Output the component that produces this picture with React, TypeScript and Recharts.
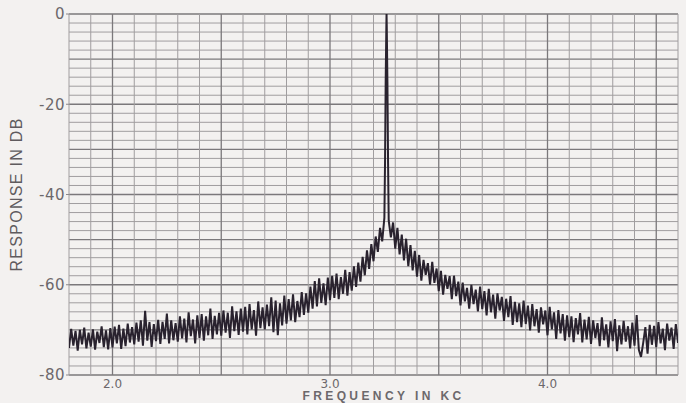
import { Line, LineChart, ReferenceLine, XAxis, YAxis } from 'recharts';

// sweep sampled every 0.01 KC, left flank runs 1.80 .. 3.25
const LEFT_START = 1.8;
const RIGHT_START = 3.27;
const STEP = 0.01;

const LEFT_DB = [
  -74.0, -69.8, -73.5, -70.2, -74.6, -70.0, -73.2, -69.5, -74.1, -70.6,
  -73.7, -69.9, -74.4, -70.4, -72.9, -69.2, -73.8, -70.1, -74.3, -69.6,
  -73.9, -69.3, -73.0, -68.9, -74.2, -69.7, -73.6, -68.6, -72.8, -69.4,
  -73.2, -68.4, -72.6, -67.9, -73.5, -65.8, -72.4, -68.3, -73.8, -68.7,
  -72.5, -67.8, -73.1, -68.2, -72.0, -66.4, -73.0, -67.9, -72.3, -68.5,
  -72.6, -67.0, -71.9, -67.5, -72.8, -66.1, -71.4, -67.7, -73.0, -66.8,
  -71.8, -66.5, -72.4, -67.0, -71.2, -65.3, -72.0, -66.9, -71.0, -66.2,
  -71.3, -65.7, -70.6, -66.2, -71.8, -64.8, -70.3, -65.9, -71.1, -65.3,
  -70.4, -64.9, -71.0, -64.3, -69.9, -65.6, -71.3, -63.7, -69.6, -65.0,
  -69.9, -64.4, -69.2, -62.8, -70.5, -63.5, -71.2, -64.1, -69.0, -62.4,
  -68.6, -63.2, -67.9, -62.1, -68.3, -63.6, -67.2, -61.6, -66.7, -61.9,
  -66.2, -60.4, -65.3, -59.2, -64.8, -58.6, -64.0, -59.7, -64.5, -58.4,
  -63.4, -58.0, -62.9, -57.5, -63.2, -58.3, -62.0, -56.7, -62.4, -57.2,
  -61.3, -55.9, -60.5, -55.1, -59.3, -53.8, -57.9, -52.4, -56.5, -51.0,
  -54.8, -49.3, -52.7, -47.4, -50.4, -45.2,
];

// the resonance itself
const PEAK_FREQ = [3.253, 3.256, 3.259, 3.26, 3.261, 3.264, 3.267];
const PEAK_DB = [-33, -15, -3, 0, -3, -15, -33];

// right flank 3.27 .. 4.60
const RIGHT_DB = [
  -45.8, -49.5, -46.2,
  -52.0, -47.4, -53.3, -48.9, -54.6, -49.8, -55.9, -51.2, -56.8, -52.5,
  -58.2, -53.4, -59.1, -54.5, -57.8, -55.2, -60.0, -54.9, -59.6, -56.4,
  -61.4, -56.9, -62.2, -57.8, -60.9, -58.1, -63.2, -58.0, -62.5, -59.3,
  -64.6, -59.5, -63.7, -60.7, -65.3, -60.0, -64.3, -61.1, -65.9, -60.4,
  -65.4, -61.4, -66.8, -60.9, -66.1, -62.2, -67.5, -61.9, -65.7, -62.7,
  -68.0, -63.1, -67.2, -62.5, -68.9, -63.8, -68.3, -64.1, -69.4, -63.5,
  -68.7, -64.6, -70.1, -64.3, -69.2, -65.4, -70.6, -65.0, -68.8, -65.7,
  -71.2, -64.9, -69.9, -66.1, -72.0, -65.6, -70.8, -66.5, -72.4, -66.8,
  -71.6, -67.0, -72.7, -67.4, -71.0, -66.3, -72.8, -67.7, -72.1, -67.1,
  -73.1, -67.9, -71.8, -68.5, -73.6, -67.2, -72.3, -68.8, -73.9, -68.1,
  -72.5, -67.6, -74.7, -69.0, -73.2, -68.0, -72.6, -69.2, -74.1, -68.4,
  -73.5, -66.7, -74.4, -76.0, -72.9, -69.4, -75.3, -68.9, -73.3, -69.1,
  -73.8, -68.3, -73.0, -69.7, -74.5, -68.6, -72.4, -69.5, -74.2, -68.7,
  -72.9,
];

const X_TICKS = [2.0, 3.0, 4.0];
const Y_TICKS = [0, -20, -40, -60, -80];

const r3 = (v: number) => Math.round(v * 1000) / 1000;

const data = [
  ...LEFT_DB.map((db, i) => ({ f: r3(LEFT_START + i * STEP), db })),
  ...PEAK_FREQ.map((f, i) => ({ f, db: PEAK_DB[i] })),
  ...RIGHT_DB.map((db, i) => ({ f: r3(RIGHT_START + i * STEP), db })),
];

// chart paper: fine lines every 0.1 KC / 2 dB, heavier every 0.5 KC / 10 dB
const gridV: { v: number; major: boolean }[] = [];
for (let i = 0; i <= 28; i++) gridV.push({ v: r3(1.8 + i * 0.1), major: (i + 3) % 5 === 0 });
const gridH: { v: number; major: boolean }[] = [];
for (let v = -80; v <= 0; v += 2) gridH.push({ v, major: v % 10 === 0 });

const INK = '#29222e';
const LABEL = '#6c686b';
const FONT = '"Liberation Sans", Arial, sans-serif';
const WIDE = '"DejaVu Sans", sans-serif';

export default function App() {
  return (
    <div style={{ position: 'fixed', left: 0, top: 0, width: 686, height: 403, background: '#f3f1f0' }}>
      <LineChart width={686} height={403} data={data} margin={{ top: 14, right: 8, bottom: 8, left: 0 }}>
        <XAxis
          type="number"
          dataKey="f"
          domain={[1.8, 4.6]}
          ticks={X_TICKS}
          tickFormatter={(v: number) => v.toFixed(1)}
          allowDataOverflow
          axisLine={false}
          tickLine={false}
          tickSize={0}
          tickMargin={4}
          height={20}
          tick={{ fill: LABEL, fontSize: 12, fontFamily: WIDE }}
          label={{
            content: ({ viewBox }: any) => (
              <text
                x={viewBox.x + viewBox.width / 2 + 10}
                y={viewBox.y + viewBox.height + 5}
                textAnchor="middle"
                fill={LABEL}
                fontSize={12}
                fontWeight="bold"
                letterSpacing={3.4}
                fontFamily={FONT}
              >
                FREQUENCY IN KC
              </text>
            ),
          }}
        />
        <YAxis
          type="number"
          domain={[-80, 0]}
          ticks={Y_TICKS}
          allowDataOverflow
          width={69}
          axisLine={false}
          tickSize={3}
          tickMargin={1}
          tickLine={{ stroke: '#8a878a' }}
          tick={{ fill: LABEL, fontSize: 15, fontFamily: WIDE, letterSpacing: 0.5 }}
          label={{
            content: ({ viewBox }: any) => {
              const cx = viewBox.x + 16;
              const cy = viewBox.y + viewBox.height / 2;
              return (
                <text
                  x={cx}
                  y={cy}
                  transform={`rotate(-90, ${cx}, ${cy})`}
                  textAnchor="middle"
                  dominantBaseline="central"
                  fill="#5f5b5e"
                  fontSize={16}
                  letterSpacing={1.3}
                  fontFamily={FONT}
                >
                  RESPONSE IN DB
                </text>
              );
            },
          }}
        />
        {gridH.map((g) => (
          <ReferenceLine
            key={`h${g.v}`}
            y={g.v}
            stroke={g.major ? '#7b787b' : '#a09d9f'}
            strokeWidth={g.major ? 1.3 : 1}
          />
        ))}
        {gridV.map((g) => (
          <ReferenceLine
            key={`v${g.v}`}
            x={g.v}
            stroke={g.major ? '#7b787b' : '#a09d9f'}
            strokeWidth={g.major ? 1.3 : 1}
          />
        ))}
        <Line
          type="linear"
          dataKey="db"
          stroke={INK}
          strokeWidth={2}
          dot={false}
          isAnimationActive={false}
        />
      </LineChart>
    </div>
  );
}
